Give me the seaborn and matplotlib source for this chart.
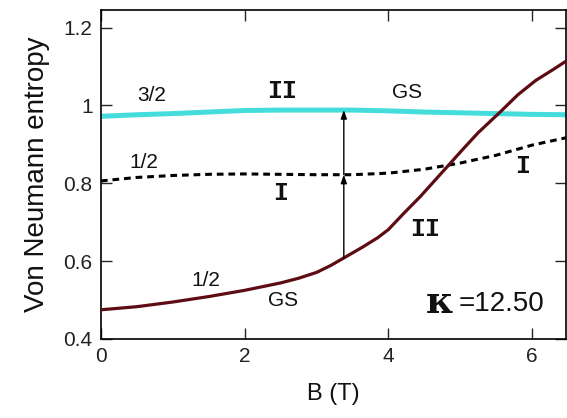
import numpy as np
import pandas as pd
import matplotlib
matplotlib.use("Agg")
import matplotlib.pyplot as plt
import seaborn as sns

# ---- data ----
B_gs = [0, 0.5, 1, 1.5, 2, 2.5, 2.75, 3, 3.2, 3.35, 3.65, 3.85, 4, 4.2, 4.45, 4.65,
        4.85, 5.05, 5.25, 5.55, 5.8, 6.05, 6.3, 6.5]
gs_half = [0.475, 0.483, 0.495, 0.509, 0.525, 0.544, 0.556, 0.571, 0.589, 0.605,
           0.637, 0.660, 0.681, 0.720, 0.767, 0.808, 0.849, 0.890, 0.930, 0.982,
           1.027, 1.064, 1.093, 1.117]
B_oth = [0, 0.5, 1, 1.5, 2, 2.5, 3, 3.5, 4, 4.5, 5, 5.5, 6, 6.5]
exc_half = [0.806, 0.815, 0.820, 0.823, 0.824, 0.823, 0.822, 0.822, 0.826, 0.836,
            0.852, 0.872, 0.898, 0.918]
gs_3half = [0.972, 0.976, 0.979, 0.983, 0.987, 0.988, 0.988, 0.988, 0.986, 0.983,
            0.981, 0.979, 0.977, 0.976]
x_ticks = [0, 2, 4, 6]
y_ticks = [0.4, 0.6, 0.8, 1.0, 1.2]
y_tick_labels = ["0.4", "0.6", "0.8", "1", "1.2"]
arrow_B = 3.38

sns.set_style("ticks")
plt.rcParams['font.family'] = ['Liberation Sans', 'DejaVu Sans']

fig = plt.figure(figsize=(5.67, 4.18), dpi=100)
ax = fig.add_axes([0.178, 0.189, 0.820, 0.787])

df_gs = pd.DataFrame({"B": B_gs, "red": gs_half})
df_oth = pd.DataFrame({"B": B_oth, "dash": exc_half, "cyan": gs_3half})

sns.lineplot(data=df_oth, x="B", y="cyan", ax=ax, color="#45dcdc", lw=3.6, zorder=2)
sns.lineplot(data=df_oth, x="B", y="dash", ax=ax, color="black", lw=2.2, zorder=3,
             linestyle=(0, (2.2, 1.6)))
sns.lineplot(data=df_gs, x="B", y="red", ax=ax, color="#5e0c14", lw=2.3, zorder=4)

# arrows between curves
y_r = np.interp(arrow_B, B_gs, gs_half)
y_d = np.interp(arrow_B, B_oth, exc_half)
y_c = np.interp(arrow_B, B_oth, gs_3half)
ap = dict(arrowstyle="-|>,head_length=0.5,head_width=0.18", color="black", lw=1.0,
          shrinkA=0, shrinkB=0)
ax.annotate("", xy=(arrow_B, y_d), xytext=(arrow_B, y_r), arrowprops=ap, zorder=5)
ax.annotate("", xy=(arrow_B, y_c), xytext=(arrow_B, y_d), arrowprops=ap, zorder=5)

ax.set_xlim(0, 6.47)
ax.set_ylim(0.4, 1.245)
ax.set_xticks(x_ticks)
ax.set_xticklabels([str(t) for t in x_ticks])
ax.set_yticks(y_ticks)
ax.set_yticklabels(y_tick_labels)
ax.tick_params(direction="in", length=8, width=1.0, top=True, right=True,
               labelsize=15, labelcolor="#222222", pad=6)
for s in ax.spines.values():
    s.set_linewidth(1.2)
    s.set_color("black")

ax.set_xlabel("B (T)", fontsize=17, labelpad=12, color="#111111")
ax.set_ylabel("Von Neumann entropy", fontsize=20, labelpad=10, color="#111111")

tk = dict(fontsize=15, ha="center", va="center", color="#111111")
ax.text(0.70, 1.026, "3/2", **tk)
ax.text(4.26, 1.034, "GS", **tk)
ax.text(0.60, 0.853, "1/2", **tk)
ax.text(1.46, 0.549, "1/2", **tk)
ax.text(2.54, 0.498, "GS", **tk)

rk = dict(fontsize=18, ha="center", va="center", color="#111111",
          family="Liberation Mono", weight="bold")
ax.text(2.52, 1.038, "II", **rk)
ax.text(2.50, 0.776, "I", **rk)
ax.text(5.87, 0.844, "I", **rk)
ax.text(4.51, 0.683, "II", **rk)

ax.text(4.72, 0.494, "κ", fontsize=27, ha="center", va="center",
        family="DejaVu Serif", weight="bold", color="#111111")
ax.text(4.98, 0.49, "=12.50", fontsize=20, ha="left", va="center", color="#111111")

fig.savefig("out.png", dpi=100)
